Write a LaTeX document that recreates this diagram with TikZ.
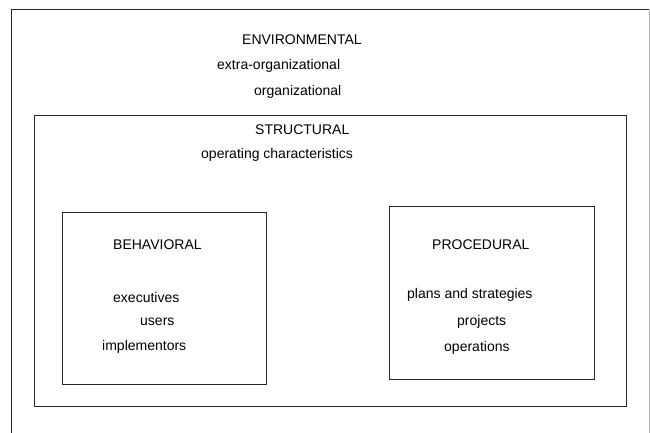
\documentclass[tikz,border=0pt]{standalone}
\usepackage{fontspec}
\setmainfont{Liberation Sans}
\begin{document}
\begin{tikzpicture}[x=1pt,y=-1pt,
  lbl/.style={anchor=west,inner sep=0pt,font=\fontsize{14}{16}\selectfont},
  frame/.style={draw=black!85,line width=1pt,minimum width=#1,inner sep=0pt},
  box/.style={draw=black!85,line width=1pt,inner sep=0pt}]
\useasboundingbox (0,0) rectangle (650,433);
% outer frame
\coordinate (ob) at (11,433);
\coordinate (otl) at (11,10);
\coordinate (otr) at (649,10);
\coordinate (obr) at (649,433);
\draw[black!85,line width=1pt] (ob) -- (otl) -- (otr);
\draw[black!30,line width=0.8pt] (otr) -- (obr);
% boxes
\node[box,minimum width=592pt,minimum height=290pt] (structural) at (330,261) {};
\node[box,minimum width=204pt,minimum height=172pt] (behavioral) at (164,298) {};
\node[box,minimum width=205pt,minimum height=173pt] (procedural) at (491.5,292.5) {};
% texts
\node[lbl] (env) at (242,40) {ENVIRONMENTAL};
\node[lbl] (extra) at (217,66) {extra-organizational};
\node[lbl] (org) at (254,92) {organizational};
\node[lbl] (str) at (255,130) {STRUCTURAL};
\node[lbl] (opc) at (201,155) {operating characteristics};
\node[lbl] (beh) at (113,245) {BEHAVIORAL};
\node[lbl] (exe) at (113,297) {executives};
\node[lbl] (usr) at (140,322) {users};
\node[lbl] (imp) at (102,347) {implementors};
\node[lbl] (pro) at (432,245) {PROCEDURAL};
\node[lbl] (pla) at (407,295) {plans and strategies};
\node[lbl] (prj) at (457,322) {projects};
\node[lbl] (ope) at (444,348) {operations};
\end{tikzpicture}
\end{document}
